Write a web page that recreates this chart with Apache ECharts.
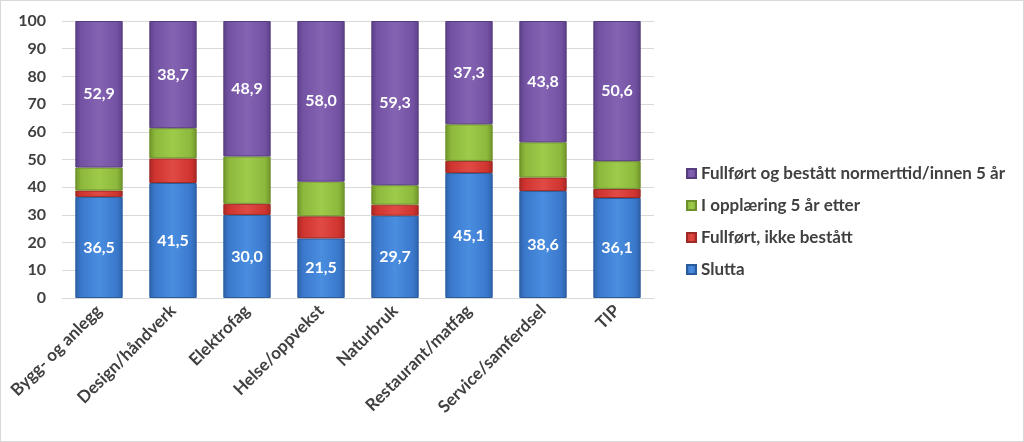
<!DOCTYPE html>
<html><head><meta charset="utf-8">
<script src="https://cdn.jsdelivr.net/npm/echarts@6/dist/echarts.min.js"></script>
<style>html,body{margin:0;padding:0;background:#fff}#c{width:1024px;height:442px;box-sizing:border-box;border:1px solid #d9d9d9}</style>
</head><body><div id="c"></div>
<script>
const categories = ['Bygg- og anlegg','Design/håndverk','Elektrofag','Helse/oppvekst','Naturbruk','Restaurant/matfag','Service/samferdsel','TIP'];
const slutta = [36.5, 41.5, 30.0, 21.5, 29.7, 45.1, 38.6, 36.1];
const ikkeBestatt = [2.3, 8.9, 4.0, 8.0, 4.0, 4.4, 4.9, 3.3];
const iOpplaering = [8.3, 10.9, 17.1, 12.5, 7.0, 13.2, 12.7, 10.0];
const fullfort = [52.9, 38.7, 48.9, 58.0, 59.3, 37.3, 43.8, 50.6];
const yTicks = [0,10,20,30,40,50,60,70,80,90,100];

const FONT = 'Lato, "Open Sans", sans-serif';
const chart = echarts.init(document.getElementById('c'));
function grad(light, base, dark){
  return new echarts.graphic.LinearGradient(0,0,1,0,[
    {offset:0,color:dark},{offset:0.12,color:base},{offset:0.5,color:light},{offset:0.88,color:base},{offset:1,color:dark}]);
}
const lbl = {show:true, position:'inside', color:'#fff', fontFamily:FONT, fontWeight:'bold', fontSize:16,
  formatter:p=>p.value.toFixed(1).replace('.',',')};
function s(name, data, color, border, showLabel){
  return {name, type:'bar', stack:'a', data, barWidth:'64%',
    itemStyle:{color, borderColor:border, borderWidth:1},
    label: showLabel ? lbl : {show:false}};
}
chart.setOption({
  animation:false,
  grid:{left:61, right:369, top:20, bottom:143},
  legend:{orient:'vertical', left:680, top:159, itemWidth:9, itemHeight:9, itemGap:15, icon:'rect',
    data:['Fullført og bestått normerttid/innen 5 år','I opplæring 5 år etter','Fullført, ikke bestått','Slutta'],
    textStyle:{fontFamily:FONT, fontWeight:'bold', fontSize:17, lineHeight:17, color:'#404040'}},
  xAxis:{type:'category', data:categories,
    axisLine:{lineStyle:{color:'#d9d9d9'}}, axisTick:{show:false},
    axisLabel:{rotate:45, interval:0, fontFamily:FONT, fontWeight:'bold', fontSize:17, color:'#404040', margin:10}},
  yAxis:{type:'value', min:0, max:100, interval:10,
    axisLine:{show:false}, axisTick:{show:false},
    splitLine:{lineStyle:{color:'#d9d9d9'}},
    axisLabel:{fontFamily:FONT, fontWeight:'bold', fontSize:16, color:'#404040', margin:16,
      formatter:v=>yTicks.includes(v)?String(v):''}},
  series:[
    s('Slutta', slutta, grad('#4a8ee0','#3a78cc','#2d62a8'), '#2a5c9c', true),
    s('Fullført, ikke bestått', ikkeBestatt, grad('#e04a45','#d0342f','#a92623'), '#9c2a26', false),
    s('I opplæring 5 år etter', iOpplaering, grad('#9fcb4a','#8cb83c','#6d9426'), '#6e8f2e', false),
    s('Fullført og bestått normerttid/innen 5 år', fullfort, grad('#8463b3','#7352a3','#5b3f86'), '#563d80', true)
  ]
});
</script></body></html>
